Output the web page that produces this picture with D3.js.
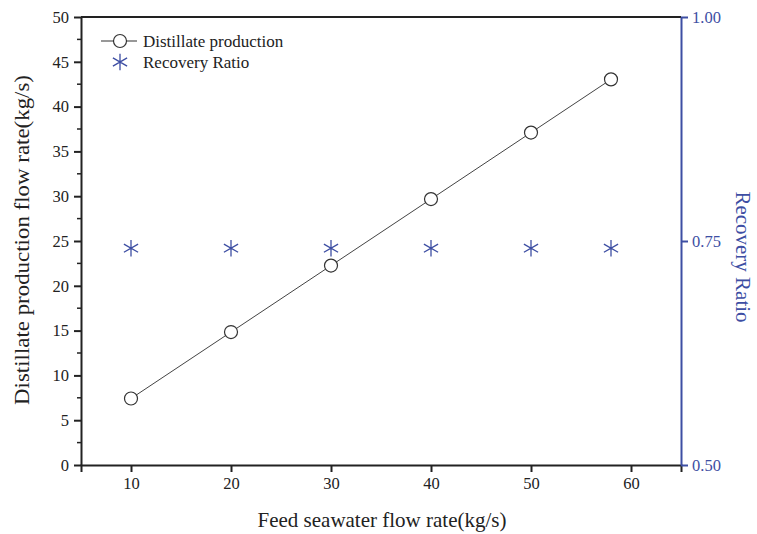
<!DOCTYPE html>
<html>
<head>
<meta charset="utf-8">
<script src="https://cdn.jsdelivr.net/npm/d3@7"></script>
<style>
body { margin: 0; background: #fff; }
svg text { font-family: "Liberation Serif", "Times New Roman", serif !important; }
</style>
</head>
<body>
<div id="chart"></div>
<script>
let feedRate = [10, 20, 30, 40, 50, 58];
let distillate = [7.42, 14.84, 22.26, 29.68, 37.1, 43.04];
let recovery = [0.742, 0.742, 0.742, 0.742, 0.742, 0.742];
let xTicks = [10, 20, 30, 40, 50, 60];
let yTicks = [0, 5, 10, 15, 20, 25, 30, 35, 40, 45, 50];
let rTicks = [0.50, 0.75, 1.00];

function main(){
    let width = 757;
    let height = 534;
    let blue = "#3d4ea3";
    let dark = "#222";

    let svg = d3.select("#chart").append("svg")
        .attr("width", width)
        .attr("height", height);

    let x = d3.scaleLinear().domain([5, 65]).range([81, 681]);
    let y = d3.scaleLinear().domain([0, 50]).range([465, 17]);
    let yr = d3.scaleLinear().domain([0.5, 1.0]).range([465, 17]);

    // top frame line
    svg.append("line")
        .attr("x1", 81).attr("x2", 681)
        .attr("y1", 17).attr("y2", 17)
        .attr("stroke", dark).attr("stroke-width", 2);

    // minor ticks on left axis
    let minor = d3.range(2.5, 50, 5);
    svg.append("g").selectAll("line")
        .data(minor)
        .enter()
        .append("line")
        .attr("x1", 81).attr("x2", 77)
        .attr("y1", function(d){ return y(d); })
        .attr("y2", function(d){ return y(d); })
        .attr("stroke", dark).attr("stroke-width", 1.5);

    let xAxis = svg.append("g")
        .attr("transform", "translate(0,465)")
        .call(d3.axisBottom(x).tickValues(xTicks).tickSize(7).tickPadding(5).tickFormat(d3.format("d")));
    xAxis.select(".domain").attr("stroke", dark).attr("stroke-width", 2);
    xAxis.selectAll(".tick line").attr("stroke", dark).attr("stroke-width", 2);
    xAxis.selectAll("text").attr("font-size", 16.5).attr("fill", dark);

    let yAxis = svg.append("g")
        .attr("transform", "translate(81,0)")
        .call(d3.axisLeft(y).tickValues(yTicks).tickSize(7).tickPadding(5).tickSizeOuter(0));
    yAxis.select(".domain").attr("stroke", dark).attr("stroke-width", 2);
    yAxis.selectAll(".tick line").attr("stroke", dark).attr("stroke-width", 2);
    yAxis.selectAll("text").attr("font-size", 16.5).attr("fill", dark);

    let rAxis = svg.append("g")
        .attr("transform", "translate(681,0)")
        .call(d3.axisRight(yr).tickValues(rTicks).tickSize(7).tickPadding(4)
            .tickSizeOuter(0).tickFormat(d3.format(".2f")));
    rAxis.select(".domain").attr("stroke", blue).attr("stroke-width", 2);
    rAxis.selectAll(".tick line").attr("stroke", blue).attr("stroke-width", 2);
    rAxis.selectAll("text").attr("font-size", 16.5).attr("fill", blue);

    // distillate line
    let line = d3.line()
        .x(function(d, i){ return x(feedRate[i]); })
        .y(function(d){ return y(d); });
    svg.append("path")
        .datum(distillate)
        .attr("d", line)
        .attr("fill", "none")
        .attr("stroke", "#444")
        .attr("stroke-width", 1);

    svg.append("g").selectAll("circle")
        .data(distillate)
        .enter()
        .append("circle")
        .attr("cx", function(d, i){ return x(feedRate[i]); })
        .attr("cy", function(d){ return y(d); })
        .attr("r", 6.5)
        .attr("fill", "#fff")
        .attr("stroke", "#333")
        .attr("stroke-width", 1.2);

    let star = d3.symbol().type(d3.symbolAsterisk).size(190);
    svg.append("g").selectAll("path")
        .data(recovery)
        .enter()
        .append("path")
        .attr("d", star)
        .attr("transform", function(d, i){
            return "translate(" + x(feedRate[i]) + "," + yr(d) + ")";
        })
        .attr("fill", "none")
        .attr("stroke", blue)
        .attr("stroke-width", 1.3);

    // legend
    let legend = svg.append("g").attr("transform", "translate(101,41)");
    legend.append("line")
        .attr("x1", 0).attr("x2", 36).attr("y1", 0).attr("y2", 0)
        .attr("stroke", "#333").attr("stroke-width", 1.2);
    legend.append("circle")
        .attr("cx", 19).attr("cy", 0).attr("r", 6.5)
        .attr("fill", "#fff").attr("stroke", "#333").attr("stroke-width", 1.2);
    legend.append("text")
        .attr("x", 42).attr("y", 6)
        .attr("font-size", 17).attr("fill", dark)
        .text("Distillate production");
    legend.append("path")
        .attr("d", star)
        .attr("transform", "translate(19,21)")
        .attr("fill", "none").attr("stroke", blue).attr("stroke-width", 1.3);
    legend.append("text")
        .attr("x", 42).attr("y", 27)
        .attr("font-size", 17).attr("fill", dark)
        .text("Recovery Ratio");

    // axis titles
    svg.append("text")
        .attr("transform", "translate(29,240) rotate(-90)")
        .attr("text-anchor", "middle")
        .attr("font-size", 21).attr("fill", dark)
        .attr("textLength", 330).attr("lengthAdjust", "spacingAndGlyphs")
        .text("Distillate production flow rate(kg/s)");

    svg.append("text")
        .attr("x", 382).attr("y", 527)
        .attr("text-anchor", "middle")
        .attr("font-size", 21).attr("fill", dark)
        .text("Feed seawater flow rate(kg/s)");

    svg.append("text")
        .attr("transform", "translate(736,257) rotate(90)")
        .attr("text-anchor", "middle")
        .attr("font-size", 21).attr("fill", blue)
        .text("Recovery Ratio");
}

main();
</script>
</body>
</html>
